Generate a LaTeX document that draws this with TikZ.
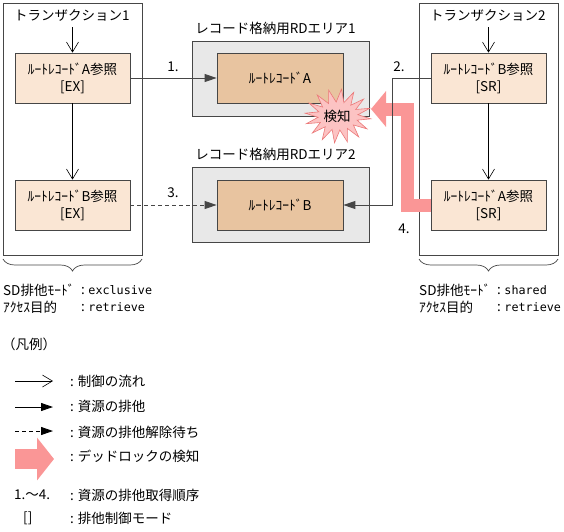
\documentclass[tikz,border=0pt]{standalone}
\usepackage{fontspec}
\setmainfont{Noto Sans CJK JP}
\newfontfamily\monofont[Scale=0.87]{DejaVu Sans Mono}
\usetikzlibrary{arrows.meta,decorations.pathreplacing,calc}
\definecolor{peach}{RGB}{250,230,212}
\definecolor{tanfill}{RGB}{232,196,160}
\definecolor{areagray}{RGB}{232,232,232}
\definecolor{pinkarrow}{RGB}{250,150,150}
\definecolor{burstfill}{RGB}{252,195,195}
\definecolor{burstdraw}{RGB}{235,120,120}
\definecolor{linegray}{RGB}{70,70,70}
\tikzset{
  txbox/.style={draw=linegray, line width=0.8pt, minimum width=139pt, minimum height=252pt, inner sep=0pt},
  refbox/.style={draw=linegray, line width=0.8pt, fill=peach, minimum width=115pt, minimum height=50pt, align=center, inner sep=0pt, font=\fontsize{13.5}{17}\selectfont},
  recbox/.style={draw=linegray, line width=0.8pt, fill=tanfill, minimum width=126pt, minimum height=50pt, inner sep=0pt, font=\fontsize{13.5}{17}\selectfont},
  areabox/.style={draw=linegray, line width=0.8pt, fill=areagray, minimum width=177pt, minimum height=75pt, inner sep=0pt},
  txt/.style={inner sep=0pt, font=\fontsize{13.5}{16}\selectfont},
  flowarrow/.style={draw=black, line width=0.6pt, -{Straight Barb[length=10pt,width=12pt]}},
  lockarrow/.style={draw=linegray, line width=0.9pt, -{Triangle[length=12pt,width=8pt]}},
  waitarrow/.style={lockarrow, dash pattern=on 4pt off 3pt},
  pinkline/.style={draw=pinkarrow, line join=miter},
  burst/.style={fill=burstfill, draw=burstdraw, line width=0.6pt},
  bracestyle/.style={draw=linegray, line width=0.7pt, decorate, decoration={brace, amplitude=12pt, mirror}},
}
\begin{document}
\begin{tikzpicture}[x=1pt,y=-1pt]
\useasboundingbox (0,0) rectangle (564,531);
% transaction frames
\node[txbox] (t1) at (72.5,129) {};
\node[txbox] (t2) at (488.5,129) {};
\node[txt, anchor=west] (t1title) at (14,15) {トランザクション1};
\node[txt, anchor=west] (t2title) at (430,15) {トランザクション2};
% RD areas
\node[areabox] (ar1) at (280.5,78.5) {};
\node[areabox] (ar2) at (280.5,204.5) {};
\node[txt] (ar1l) at (275.5,28) {レコード格納用RDエリア1};
\node[txt] (ar2l) at (275.5,154) {レコード格納用RDエリア2};
\node[recbox] (ra) at (280,78) {ﾙｰﾄﾚｺｰﾄﾞA};
\node[recbox] (rb) at (280,205) {ﾙｰﾄﾚｺｰﾄﾞB};
% reference boxes
\node[refbox] (r1a) at (72.5,78) {ﾙｰﾄﾚｺｰﾄﾞA参照\\{[EX]}};
\node[refbox] (r1b) at (72.5,205) {ﾙｰﾄﾚｺｰﾄﾞB参照\\{[EX]}};
\node[refbox] (r2b) at (488.5,78) {ﾙｰﾄﾚｺｰﾄﾞB参照\\{[SR]}};
\node[refbox] (r2a) at (488.5,205) {ﾙｰﾄﾚｺｰﾄﾞA参照\\{[SR]}};
% control flow
\coordinate (t1in) at (72.5,27);
\coordinate (t2in) at (488.5,27);
\draw[flowarrow] (t1in) -- (r1a.north);
\draw[flowarrow] (r1a) -- (r1b);
\draw[flowarrow] (t2in) -- (r2b.north);
\draw[flowarrow] (r2b) -- (r2a);
% deadlock pink arrow
\coordinate (pbend) at (407,109);
\coordinate (ptip) at (371,109);
\draw[pinkline, line width=13pt, -{Triangle[length=15pt,width=35pt]}] (r2a.west) -| (pbend) -- (ptip);
% locks
\draw[lockarrow] (r1a.east) -- (ra.west);
\draw[waitarrow] (r1b.east) -- (rb.west);
\draw[lockarrow] (r2b.west) -- ++(-38,0) |- (rb.east);
\node[txt] (n1) at (173,67) {1.};
\node[txt] (n2) at (399,67) {2.};
\node[txt] (n3) at (173,193) {3.};
\node[txt] (n4) at (404,229) {4.};
% detection starburst
\draw[burst] plot[samples at={0,...,31}, variable=\k] ({338+(isodd(\k)?20:33)*cos(\k*360/32+6)}, {116+(isodd(\k)?14:27)*sin(\k*360/32+6)}) -- cycle;
\node[txt] (det) at (337,116) {検知};
% braces
\draw[bracestyle] (3,259) -- (142,259);
\draw[bracestyle] (419,259) -- (558,259);
% modes
\node[txt, anchor=west] (m1) at (3,290) {SD排他ﾓｰﾄﾞ};
\node[txt, anchor=west] (m1v) at (81,290) {:\hspace{3.5pt}{\monofont exclusive}};
\node[txt, anchor=west] (p1) at (3,307) {ｱｸｾｽ目的};
\node[txt, anchor=west] (p1v) at (81,307) {:\hspace{3.5pt}{\monofont retrieve}};
\node[txt, anchor=west] (m2) at (419,290) {SD排他ﾓｰﾄﾞ};
\node[txt, anchor=west] (m2v) at (497,290) {:\hspace{3.5pt}{\monofont shared}};
\node[txt, anchor=west] (p2) at (419,307) {ｱｸｾｽ目的};
\node[txt, anchor=west] (p2v) at (497,307) {:\hspace{3.5pt}{\monofont retrieve}};
% legend
\node[txt, anchor=west] (leg) at (2,344) {（凡例）};
\coordinate (l1a) at (15,381); \coordinate (l1b) at (53,381);
\draw[flowarrow] (l1a) -- (l1b);
\node[txt, anchor=west] (l1t) at (70,381) {: 制御の流れ};
\coordinate (l2a) at (15,407); \coordinate (l2b) at (53,407);
\draw[lockarrow, draw=black] (l2a) -- (l2b);
\node[txt, anchor=west] (l2t) at (70,406) {: 資源の排他};
\coordinate (l3a) at (15,431); \coordinate (l3b) at (53,431);
\draw[waitarrow, draw=black] (l3a) -- (l3b);
\node[txt, anchor=west] (l3t) at (70,432) {: 資源の排他解除待ち};
\coordinate (l4a) at (15,459); \coordinate (l4b) at (54,459);
\draw[pinkline, line width=20pt, -{Triangle[length=17pt,width=42pt]}] (l4a) -- (l4b);
\node[txt, anchor=west] (l4t) at (70,456) {: デッドロックの検知};
\node[txt, anchor=west] (l5) at (14,495) {1.～4.};
\node[txt, anchor=west] (l5t) at (70,495) {: 資源の排他取得順序};
\node[txt, anchor=west] (l6) at (23,518) {[]};
\node[txt, anchor=west] (l6t) at (70,518) {: 排他制御モード};
\end{tikzpicture}
\end{document}
